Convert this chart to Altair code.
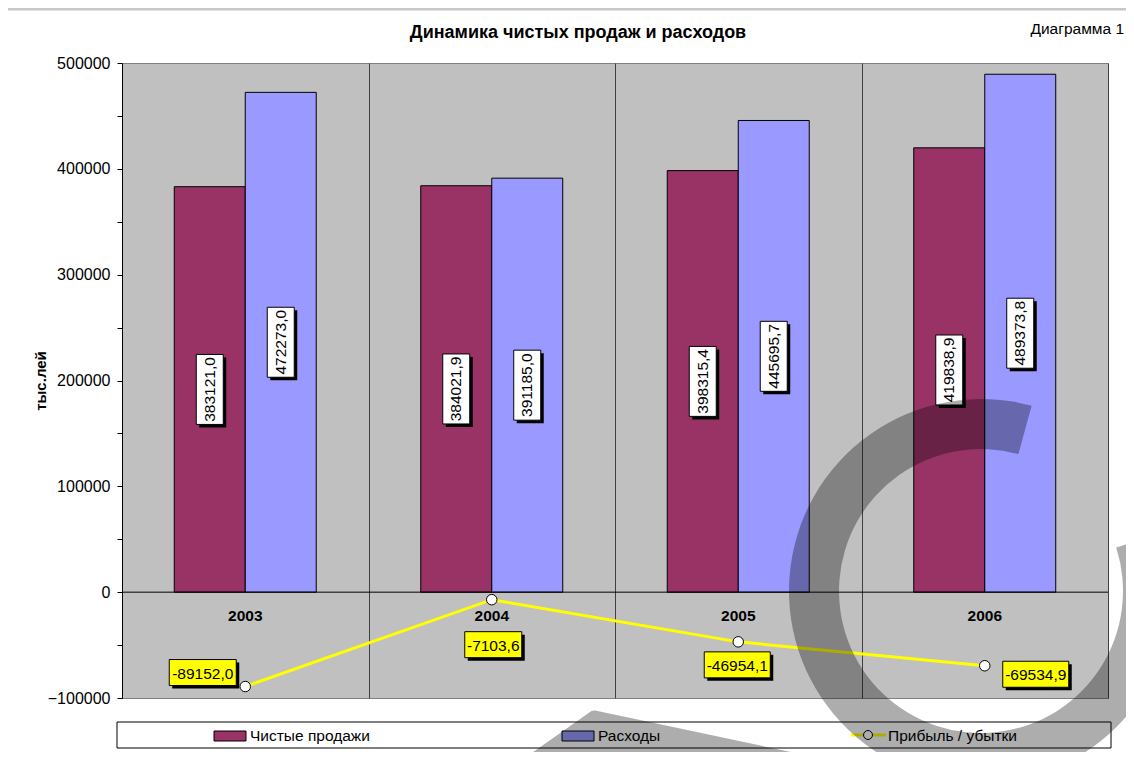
import altair as alt
import pandas as pd

# ---------------- data ----------------
years = ["2003", "2004", "2005", "2006"]
sales = [383121.0, 384021.9, 398315.4, 419838.9]
expenses = [472273.0, 391185.0, 445695.7, 489373.8]
profit = [-89152.0, -7103.6, -46954.1, -69534.9]
series_names = ["Чистые продажи", "Расходы"]
profit_name = "Прибыль / убытки"
y_ticks = list(range(-100000, 500001, 50000))
title_text = "Динамика чистых продаж и расходов"
corner_text = "Диаграмма 1"
y_title = "тыс.лей"

# ---------------- style ----------------
W, H = 986, 635
FONT = "Liberation Sans"
MAROON = "#993366"
BLUE = "#9999FF"
YELLOW = "#FFFF00"
PLOT_BG = "#C0C0C0"


def fmt(v):
    return f"{v:.1f}".replace(".", ",")


def rect_path(w, h, ox, oy, half):
    x0 = (ox - w / 2) / half
    x1 = (ox + w / 2) / half
    y0 = (oy - h / 2) / half
    y1 = (oy + h / 2) / half
    return f"M{x0:.4f},{y0:.4f}L{x1:.4f},{y0:.4f}L{x1:.4f},{y1:.4f}L{x0:.4f},{y1:.4f}Z"


bars_df = pd.DataFrame({
    "year": years * 2,
    "series": [series_names[0]] * len(years) + [series_names[1]] * len(years),
    "value": sales + expenses,
})
bars_df["label"] = bars_df["value"].map(fmt)
bars_df["mid"] = bars_df["value"] / 2

profit_df = pd.DataFrame({"year": years, "value": profit})
profit_df["label"] = profit_df["value"].map(fmt)

one = pd.DataFrame({"a": [0]})

x_scale = alt.Scale(domain=years, paddingInner=0, paddingOuter=0)
y_scale = alt.Scale(domain=[-100000, 500000], nice=False, zero=False)
xoff_scale = alt.Scale(domain=series_names, paddingInner=0, paddingOuter=0.736)
color_scale = alt.Scale(domain=series_names, range=[MAROON, BLUE])

X = alt.X("year:N", scale=x_scale,
          axis=alt.Axis(title=None, labels=False, ticks=False, domain=False,
                        grid=True, gridColor="#404040", gridWidth=1,
                        tickBand="extent", gridOpacity=1))
Y = alt.Y("value:Q", scale=y_scale,
          axis=alt.Axis(values=y_ticks,
                        labelExpr="datum.value % 100000 === 0 ? format(datum.value, 'd') : ''",
                        grid=False, domainColor="black", domainWidth=1,
                        tickColor="black", tickSize=5, labelPadding=7,
                        labelFontSize=16, labelFont=FONT, labelColor="black",
                        title=y_title, titleFont=FONT, titleFontSize=15,
                        titleFontWeight="bold", titleColor="black",
                        titleAngle=270, titleX=-82, titleY=H / 2,
                        titleBaseline="middle", titleAlign="center"))

base_bars = alt.Chart(bars_df)

bars = base_bars.mark_bar(stroke="black", strokeWidth=1, opacity=1).encode(
    x=X, y=Y, y2=alt.Y2(datum=0),
    xOffset=alt.XOffset("series:N", scale=xoff_scale),
    color=alt.Color("series:N", scale=color_scale, legend=None),
)

BH = 60
bar_shadow = base_bars.mark_point(
    shape=rect_path(27, 70, 3, 3, BH), size=(2 * BH) ** 2, filled=True,
    fill="black", strokeWidth=0, opacity=1).encode(
    x=alt.X("year:N", scale=x_scale), y=alt.Y("mid:Q", scale=y_scale),
    xOffset=alt.XOffset("series:N", scale=xoff_scale))
bar_box = base_bars.mark_point(
    shape=rect_path(27, 70, 0, 0, BH), size=(2 * BH) ** 2, filled=True,
    fill="white", stroke="black", strokeWidth=1, opacity=1).encode(
    x=alt.X("year:N", scale=x_scale), y=alt.Y("mid:Q", scale=y_scale),
    xOffset=alt.XOffset("series:N", scale=xoff_scale))
bar_text = base_bars.mark_text(
    angle=270, align="center", baseline="middle", fontSize=15.5, font=FONT,
    color="black").encode(
    x=alt.X("year:N", scale=x_scale), y=alt.Y("mid:Q", scale=y_scale),
    xOffset=alt.XOffset("series:N", scale=xoff_scale), text="label:N")

zero_rule = alt.Chart(one).mark_rule(color="black", strokeWidth=1).encode(
    y=alt.Y(datum=0, type="quantitative", scale=y_scale))

cat_labels = alt.Chart(pd.DataFrame({"year": years})).mark_text(
    fontSize=15.5, fontWeight="bold", font=FONT, color="black",
    baseline="middle", dy=24).encode(
    x=alt.X("year:N", scale=x_scale),
    y=alt.Y(datum=0, type="quantitative", scale=y_scale),
    text="year:N")

base_p = alt.Chart(profit_df)
p_line = base_p.mark_line(color=YELLOW, strokeWidth=3).encode(
    x=alt.X("year:N", scale=x_scale), y=alt.Y("value:Q", scale=y_scale))
p_pts = base_p.mark_point(shape="circle", filled=True, fill="white",
                          stroke="black", strokeWidth=1, size=110,
                          opacity=1).encode(
    x=alt.X("year:N", scale=x_scale), y=alt.Y("value:Q", scale=y_scale))

# label offsets (pixels from the point) and box widths
p_off = {"2003": (-42.5, -14, 67), "2004": (1.5, 45, 57),
         "2005": (-1, 23, 66), "2006": (51, 8.5, 66)}
PH = 100
p_label_layers = []
for yr in years:
    ox, oy, w = p_off[yr]
    sub = base_p.transform_filter(alt.datum.year == yr)
    enc = dict(x=alt.X("year:N", scale=x_scale), y=alt.Y("value:Q", scale=y_scale))
    p_label_layers.append(sub.mark_point(
        shape=rect_path(w, 26, ox + 3, oy + 3, PH), size=(2 * PH) ** 2,
        filled=True, fill="black", strokeWidth=0, opacity=1).encode(**enc))
    p_label_layers.append(sub.mark_point(
        shape=rect_path(w, 26, ox, oy, PH), size=(2 * PH) ** 2,
        filled=True, fill=YELLOW, stroke="black", strokeWidth=1,
        opacity=1).encode(**enc))
    p_label_layers.append(sub.mark_text(
        fontSize=15.5, font=FONT, color="black", align="center",
        baseline="middle", dx=ox, dy=oy + 1).encode(text="label:N", **enc))

# ---------- titles ----------
LX, LY = -122, -63  # converts page coordinates to plot coordinates
title_mark = alt.Chart(one).mark_text(
    text=title_text, fontSize=18, fontWeight="bold", font=FONT, color="black",
    align="center", baseline="middle").encode(
    x=alt.value(578 + LX), y=alt.value(33 + LY))
corner_mark = alt.Chart(one).mark_text(
    text=corner_text, fontSize=15.5, font=FONT, color="black",
    align="right", baseline="middle").encode(
    x=alt.value(1124 + LX), y=alt.value(29 + LY))
frame_top = alt.Chart(one).mark_rule(color="#C8C8C8", strokeWidth=3).encode(
    x=alt.value(-122), x2=alt.value(1134 + LX), y=alt.value(-54))

# ---------- legend (manual) ----------
leg_box = alt.Chart(one).mark_rect(fill="white", stroke="black",
                                   strokeWidth=1).encode(
    x=alt.value(117 + LX), x2=alt.value(1111 + LX),
    y=alt.value(722 + LY), y2=alt.value(748 + LY))
leg_sw1 = alt.Chart(one).mark_rect(fill=MAROON, stroke="black",
                                   strokeWidth=1).encode(
    x=alt.value(214 + LX), x2=alt.value(246 + LX),
    y=alt.value(731 + LY), y2=alt.value(741 + LY))
leg_sw2 = alt.Chart(one).mark_rect(fill=BLUE, stroke="black",
                                   strokeWidth=1).encode(
    x=alt.value(562 + LX), x2=alt.value(594 + LX),
    y=alt.value(731 + LY), y2=alt.value(741 + LY))
leg_line = alt.Chart(one).mark_rule(color=YELLOW, strokeWidth=3).encode(
    x=alt.value(851 + LX), x2=alt.value(886 + LX), y=alt.value(735 + LY))
leg_pt = alt.Chart(one).mark_point(shape="circle", filled=True, fill="white",
                                   stroke="black", strokeWidth=1, size=80,
                                   opacity=1).encode(
    x=alt.value(868 + LX), y=alt.value(735 + LY))
leg_t1 = alt.Chart(one).mark_text(text=series_names[0], fontSize=15.5, font=FONT,
                                  align="left", baseline="middle",
                                  color="black").encode(
    x=alt.value(250 + LX), y=alt.value(736 + LY))
leg_t2 = alt.Chart(one).mark_text(text=series_names[1], fontSize=15.5, font=FONT,
                                  align="left", baseline="middle",
                                  color="black").encode(
    x=alt.value(598 + LX), y=alt.value(736 + LY))
leg_t3 = alt.Chart(one).mark_text(text=profit_name, fontSize=15.5, font=FONT,
                                  align="left", baseline="middle",
                                  color="black").encode(
    x=alt.value(888 + LX), y=alt.value(736 + LY))

# ---------- watermark ----------
wedge = alt.Chart(pd.DataFrame({"w": [1]})).mark_arc(
    fill="#000000", fillOpacity=0.32, stroke=None).encode(
    x=alt.value(593 + LX), y=alt.value(710 + LY),
    radius=alt.value(230), radius2=alt.value(1),
    theta=alt.value(1.78), theta2=alt.value(4.1))
ring = alt.Chart(one).mark_arc(color="black", opacity=0.32).encode(
    x=alt.value(981 + LX), y=alt.value(591 + LY),
    radius=alt.value(192), radius2=alt.value(142),
    theta=alt.value(1.26), theta2=alt.value(6.55))

chart = alt.layer(
    bars, zero_rule, cat_labels, bar_shadow, bar_box, bar_text,
    p_line, p_pts, *p_label_layers,
    title_mark, corner_mark, frame_top,
    leg_box, leg_sw1, leg_sw2, leg_line, leg_pt, leg_t1, leg_t2, leg_t3,
    wedge, ring,
).properties(
    width=W, height=H,
    padding={"left": 114, "top": 55, "right": 18, "bottom": 54},
    autosize=alt.AutoSizeParams(type="none"),
    background="white",
).configure_view(fill=PLOT_BG, stroke="#808080", strokeWidth=1)

chart.save("out.html", embed_options={"renderer": "svg", "actions": False})
